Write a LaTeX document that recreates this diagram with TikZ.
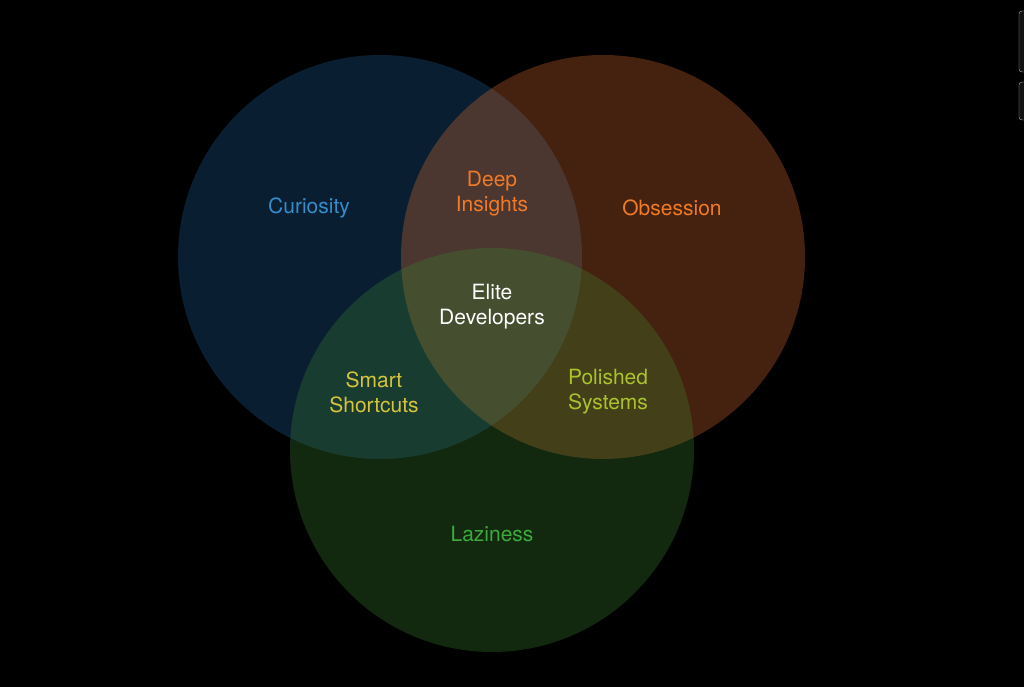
\documentclass[tikz,border=0pt]{standalone}
\usepackage{fontspec}
\setmainfont{TeX Gyre Heros}
\begin{document}
\begin{tikzpicture}[x=1pt,y=1pt,
  lbl/.style={font=\fontsize{21}{25}\selectfont,align=center}]
\fill[black] (0,0) rectangle (1024,687);
\useasboundingbox (0,0) rectangle (1024,687);
\definecolor{cb}{RGB}{30,100,160}
\definecolor{co}{RGB}{230,110,50}
\definecolor{cg}{RGB}{60,135,50}
\fill[cb,opacity=0.3] (380,430) circle (202);
\fill[co,opacity=0.3] (603,430) circle (202);
\fill[cg,opacity=0.3] (492,237) circle (202);
\draw[gray!60,fill=gray!15!black,rounded corners=3] (1019,615) rectangle (1032,676);
\draw[gray!60,fill=gray!15!black,rounded corners=3] (1019,567) rectangle (1032,605);
\node[lbl,text={rgb,255:red,52;green,140;blue,205}] (cur) at (309,479) {Curiosity};
\node[lbl,text={rgb,255:red,240;green,122;blue,38}] (obs) at (672,479) {Obsession};
\node[lbl,text={rgb,255:red,240;green,122;blue,38}] (deep) at (492,493) {Deep\\Insights};
\node[lbl,text=white] (elite) at (492,380) {Elite\\Developers};
\node[lbl,text={rgb,255:red,215;green,195;blue,60}] (smart) at (374,295) {Smart\\Shortcuts};
\node[lbl,text={rgb,255:red,170;green,195;blue,45}] (pol) at (608,295) {Polished\\Systems};
\node[lbl,text={rgb,255:red,60;green,170;blue,60}] (lazy) at (492,153) {Laziness};
\end{tikzpicture}
\end{document}
